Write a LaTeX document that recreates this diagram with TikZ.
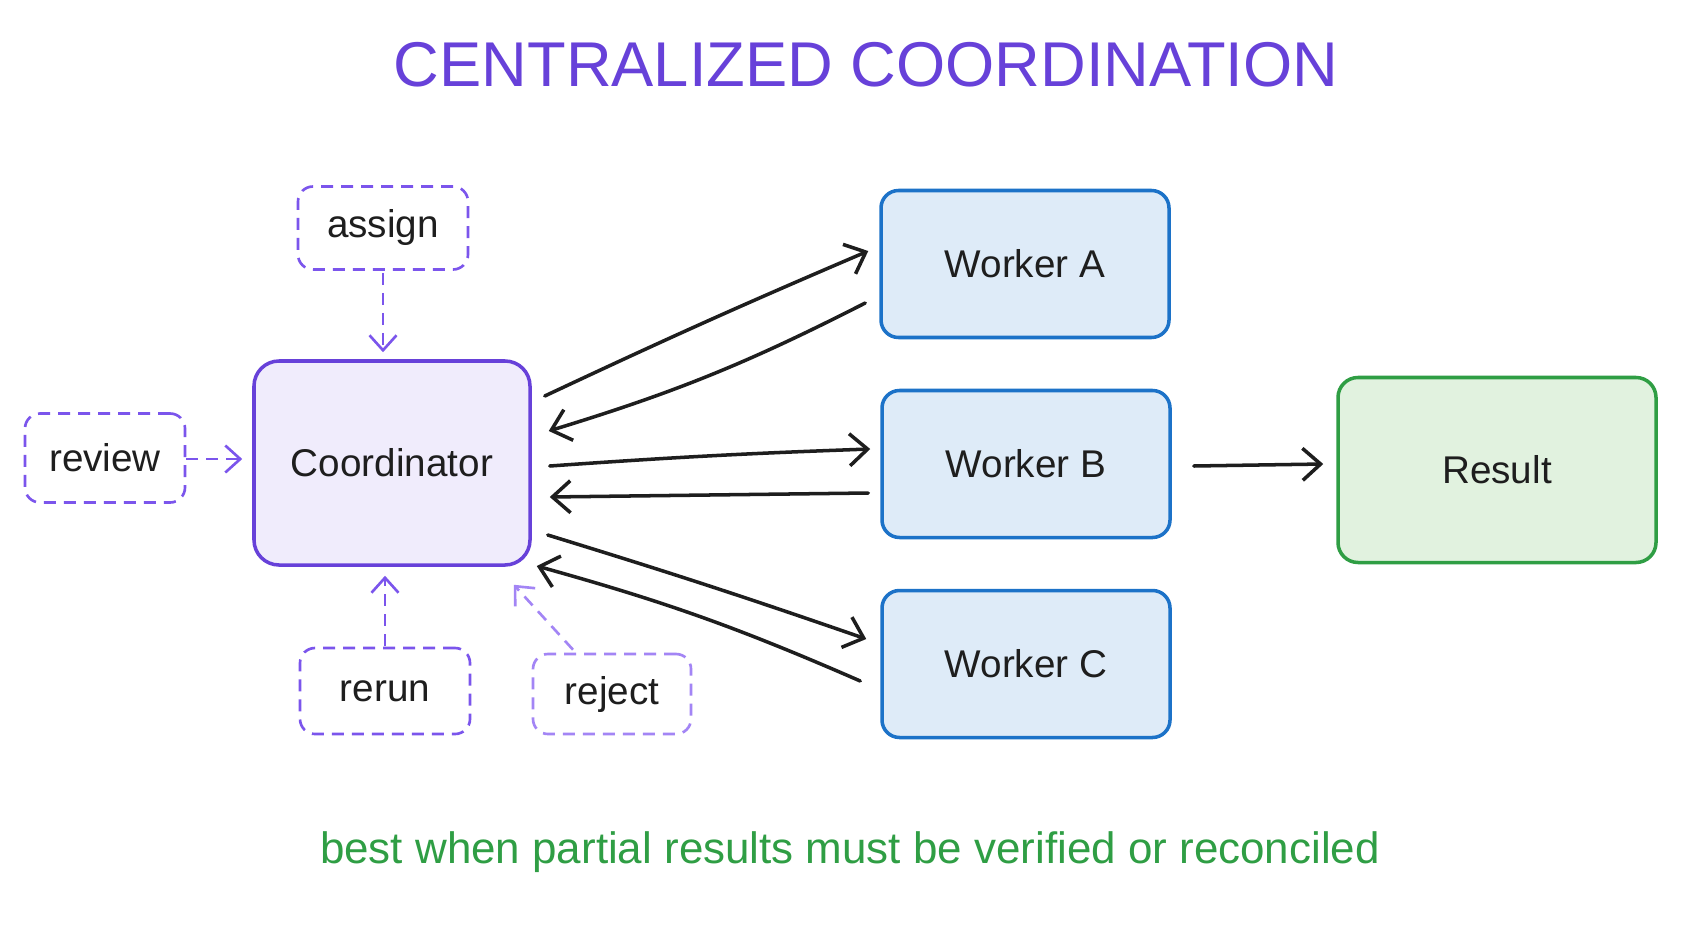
\documentclass[tikz,border=0pt]{standalone}
\usepackage{fontspec}
\setmainfont{Liberation Sans}
\usetikzlibrary{calc, arrows.meta}

\definecolor{violeta}{HTML}{6741D9}
\definecolor{violetaclaro}{HTML}{7B55EC}
\definecolor{violetatenue}{HTML}{A385F5}
\definecolor{lavanda}{HTML}{F0ECFC}
\definecolor{azul}{HTML}{1C72C8}
\definecolor{celeste}{HTML}{DEEBF8}
\definecolor{verde}{HTML}{2F9E44}
\definecolor{verdeclaro}{HTML}{E1F2DF}
\definecolor{tinta}{HTML}{1E1E1E}

\newcommand{\etiqfont}{\fontsize{22}{26}\selectfont}

\begin{document}
\begin{tikzpicture}[
    x=0.2mm, y=-0.2mm,
    % Definición de estilos
    box base/.style={line width=2pt, text=tinta, font=\etiqfont, align=center},
    box coord/.style={box base, draw=violeta, fill=lavanda, rounded corners=5mm, minimum width=55.2mm, minimum height=40.8mm},
    box worker/.style={box base, draw=azul, fill=celeste, rounded corners=3.5mm, minimum width=57.6mm, minimum height=29.4mm},
    box result/.style={box base, draw=verde, fill=verdeclaro, rounded corners=4mm, minimum width=63.6mm, minimum height=37mm},
    box action/.style={box base, line width=1.5pt, draw=violetaclaro, dash pattern=on 2.4mm off 1.6mm, rounded corners=3mm}, % Acciones del coordinador
    edge flow/.style={-{Straight Barb[length=3.6mm, width=6.4mm]}, line width=2pt, tinta, line cap=round, line join=round}, % Flujo de trabajo
    edge action/.style={-{Straight Barb[length=3mm, width=5.4mm]}, line width=1.5pt, violetaclaro, dash pattern=on 2.4mm off 1.6mm} % Flechas discontinuas
]
    \useasboundingbox[fill=white] (0,0) rectangle (1692,929);

    % =========================================================================
    % 1. Título y nota al pie
    % =========================================================================
    \node[font=\fontsize{36}{40}\selectfont, text=violeta] (titulo) at (866,65) {CENTRALIZED COORDINATION};
    \node[font=\fontsize{25}{30}\selectfont, text=verde] (nota) at (850,852) {best when partial results must be verified or reconciled};

    % =========================================================================
    % 2. Nodos principales
    % =========================================================================
    \node[box coord] (coord) at (392,463) {Coordinator};

    \node[box worker] (wa) at (1025,264) {Worker A};
    \node[box worker] (wb) at (1026,464) {Worker B};
    \node[box worker] (wc) at (1026,664) {Worker C};

    \node[box result] (result) at (1497,470) {Result};

    % Acciones alrededor del coordinador
    \node[box action, minimum width=34mm, minimum height=16.6mm] (assign) at (383,228) {assign};
    \node[box action, minimum width=32mm, minimum height=17.8mm] (review) at (105,458) {review};
    \node[box action, minimum width=34mm, minimum height=17.2mm] (rerun) at (385,691) {rerun};
    \node[box action, draw=violetatenue, minimum width=31.6mm, minimum height=16mm] (reject) at (612,694) {reject};

    % =========================================================================
    % 3. Flechas coordinador <-> trabajadores
    % =========================================================================
    \draw[edge flow] ($(coord.east)+(13,-67)$) to[bend left=1] ($(wa.west)+(-11,-13)$);
    \draw[edge flow] ($(wa.west)+(-14,39)$) to[bend left=5] ($(coord.east)+(17,-32)$);

    \draw[edge flow] ($(coord.east)+(18,3)$) to[bend left=1] ($(wb.west)+(-10,-15)$);
    \draw[edge flow] ($(wb.west)+(-12,29)$) -- ($(coord.east)+(18,34)$);

    \draw[edge flow] ($(coord.east)+(16,72)$) to[bend left=1] ($(wc.west)+(-14,-25)$);
    \draw[edge flow] ($(wc.west)+(-20,17)$) to[bend right=4] ($(coord.east)+(5,103)$);

    % Salida hacia el resultado
    \draw[edge flow] ($(wb.east)+(22,2)$) -- ($(result.west)+(-13,-6)$);

    % =========================================================================
    % 4. Flechas de acciones
    % =========================================================================
    \draw[edge action] ($(assign.south)+(0,2)$) -- ($(coord.north)+(-9,-7)$);
    \draw[edge action] ($(review.east)+(0,1)$) -- ($(coord.west)+(-10,-4)$);
    \draw[edge action] ($(rerun.north)+(0,-1)$) -- ($(coord.south)+(-7,9)$);
    \draw[edge action, violetatenue] ($(reject.north)+(-39,-3)$) -- ($(coord.south east)+(-18,18)$);

\end{tikzpicture}
\end{document}
